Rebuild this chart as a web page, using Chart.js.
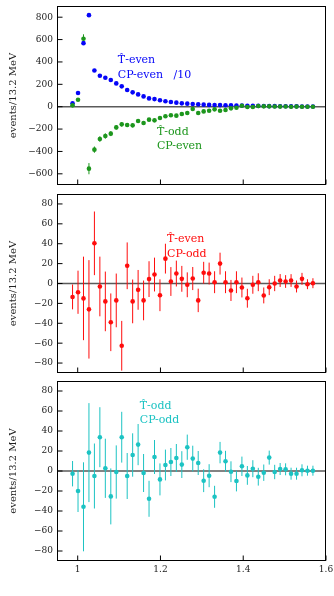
<!DOCTYPE html>
<html>
<head>
<meta charset="utf-8">
<script src="https://cdn.jsdelivr.net/npm/chart.js@4"></script>
<style>
  html, body { margin: 0; padding: 0; background: #fff; }
  body { width: 334px; height: 596px; position: relative; overflow: hidden; }
  .panel { position: absolute; left: 0; width: 334px; }
</style>
</head>
<body>
<div class="panel" style="top:0;height:190px"><canvas id="c1"></canvas></div>
<div class="panel" style="top:188px;height:190px"><canvas id="c2"></canvas></div>
<div class="panel" style="top:375px;height:221px"><canvas id="c3"></canvas></div>
<script>
// bin centres, m_KK in GeV (13.2 MeV bins)
const massGeV = [0.9876, 1.0008, 1.0140, 1.0272, 1.0404, 1.0536, 1.0668, 1.0800, 1.0932, 1.1064,
  1.1196, 1.1328, 1.1460, 1.1592, 1.1724, 1.1856, 1.1988, 1.2120, 1.2252, 1.2384,
  1.2516, 1.2648, 1.2780, 1.2912, 1.3044, 1.3176, 1.3308, 1.3440, 1.3572, 1.3704,
  1.3836, 1.3968, 1.4100, 1.4232, 1.4364, 1.4496, 1.4628, 1.4760, 1.4892, 1.5024,
  1.5156, 1.5288, 1.5420, 1.5552, 1.5684];

// T-even CP-even (scaled /10)
const tEvenCpEven = [30, 122, 568, 818, 324, 277, 259, 238, 208, 182,
  149, 128, 110, 92, 74, 68, 57, 48, 42, 36,
  30, 27, 24, 21, 18, 16, 15, 14, 13, 12,
  11, 10, 9, 8, 7, 6, 5, 5, 4, 4,
  3, 3, 2, 2, 2];

// T-odd CP-even
const tOddCpEven = [12, 62, 607, -554, -384, -289, -262, -241, -185, -158,
  -164, -167, -128, -146, -116, -122, -101, -86, -77, -80,
  -65, -57, -21, -57, -42, -36, -24, -36, -30, -15,
  -9, 9, -3, -3, 6, 3, 3, 2, 1, 2,
  0, 1, 0, 0, 0];
const tOddCpEvenErr = [8, 12, 40, 50, 28, 25, 24, 22, 20, 19,
  18, 17, 16, 16, 15, 15, 14, 13, 13, 12,
  12, 12, 11, 11, 10, 10, 10, 10, 9, 9,
  9, 8, 8, 8, 7, 7, 7, 6, 6, 6,
  6, 5, 5, 5, 5];

// T-even CP-odd
const tEvenCpOdd = [-13.5, -8.8, -15, -26, 40.4, -3, -18, -39, -17, -62.6,
  17.8, -18, -6.4, -17, 4.4, 9, -11.8, 25, 2, 10,
  4.7, -1.3, 5, -17, 10.8, 10, 1.3, 20, 1.3, -7,
  1.3, -4, -14.8, -1.3, 1.3, -12, -3.7, 0, 3, 2,
  3, -3, 4.7, -0.7, 0.3];
const tEvenCpOddErr = [12.5, 21.7, 42, 49.5, 32, 30, 30, 29, 27, 25,
  23.5, 22, 20, 20, 18, 17, 16, 15, 14.5, 13,
  13, 12.5, 11.6, 11.8, 11, 11, 11, 11, 11, 10.6,
  11, 10, 9.5, 9, 9, 8, 8, 7.7, 6.5, 6.4,
  6.4, 6, 6, 5, 5];

// T-odd CP-odd
const tOddCpOdd = [-2.7, -20, -35.8, 18.4, -5, 33.8, 2.7, -25.4, -1, 33.8,
  -5, 16, 26.4, -2, -27.8, 14, -8.4, 6, 9, 13,
  6.4, 23.8, 12.4, 8, -9.7, -4.7, -25.8, 18.4, 9.7, -0.7,
  -10, 4.7, -4.4, 2.3, -5.7, -1.7, 13.4, -1, 2, 1.7,
  -2.7, -2.7, 0.7, 0.3, 0.3];
const tOddCpOddErr = [12.7, 21, 44.5, 49.5, 32.5, 30, 29.6, 28, 26.6, 25.4,
  23, 21.7, 20.6, 19, 18, 17, 16, 15.4, 14, 14,
  13.4, 12.6, 12.9, 12, 11.4, 11.5, 11, 10.7, 10.5, 10.4,
  10.4, 9.7, 9.4, 8.5, 8.9, 8.2, 7, 7.2, 6, 6,
  6, 6, 6, 5, 5];

const xTicks = [1, 1.2, 1.4, 1.6];
const yTicksTop = [-600, -400, -200, 0, 200, 400, 600, 800];
const yTicksLow = [-80, -60, -40, -20, 0, 20, 40, 60, 80];

const BLUE = '#0505f8';
const GREEN = '#1d961d';
const RED = '#ff0c0c';
const CYAN = '#1cc3c3';
const SERIF = "'DejaVu Serif', serif";

const pts = (vals) => vals.map((v, i) => ({ x: massGeV[i], y: v }));

// zero line, error bars, frame, inward ticks, text notes
const framePlugin = {
  id: 'framePlugin',
  beforeDatasetsDraw(chart) {
    const { ctx, chartArea: a, scales: { x, y } } = chart;
    ctx.save();
    ctx.beginPath();
    ctx.rect(a.left, a.top, a.right - a.left, a.bottom - a.top);
    ctx.clip();
    const y0 = y.getPixelForValue(0);
    ctx.strokeStyle = '#5a5a5a';
    ctx.lineWidth = 1.6;
    ctx.beginPath();
    ctx.moveTo(a.left, y0);
    ctx.lineTo(a.right, y0);
    ctx.stroke();
    chart.data.datasets.forEach(ds => {
      if (!ds.errors) return;
      ctx.strokeStyle = ds.backgroundColor;
      ctx.lineWidth = 1;
      ds.data.forEach((p, i) => {
        const px = x.getPixelForValue(p.x);
        ctx.beginPath();
        ctx.moveTo(px, y.getPixelForValue(p.y + ds.errors[i]));
        ctx.lineTo(px, y.getPixelForValue(p.y - ds.errors[i]));
        ctx.stroke();
      });
    });
    ctx.restore();
  },
  afterDraw(chart, args, opts) {
    const { ctx, chartArea: a, scales: { x, y } } = chart;
    ctx.save();
    const L = Math.round(a.left) + 0.5, R = Math.round(a.right) - 0.5;
    const T = Math.round(a.top) + 0.5, B = Math.round(a.bottom) - 0.5;
    ctx.strokeStyle = '#000';
    ctx.lineWidth = 1;
    ctx.strokeRect(L, T, R - L, B - T);
    ctx.beginPath();
    y.ticks.forEach(t => {
      const py = y.getPixelForValue(t.value);
      ctx.moveTo(L, py); ctx.lineTo(L + 5, py);
    });
    x.ticks.forEach(t => {
      const px = x.getPixelForValue(t.value);
      ctx.moveTo(px, B); ctx.lineTo(px, B - 5);
    });
    ctx.stroke();

    ctx.textBaseline = 'alphabetic';
    ctx.textAlign = 'left';
    (opts.notes || []).forEach(n => {
      ctx.fillStyle = n.color;
      ctx.font = '11px ' + SERIF;
      ctx.fillText(n.text, x.getPixelForValue(n.x), y.getPixelForValue(n.y));
    });

    if (opts.xTitle) {
      const parts = [
        { t: 'm', f: 'italic 11px ' + SERIF, dy: 0 },
        { t: 'KK', f: 'italic 7.5px ' + SERIF, dy: 2 },
        { t: ' [GeV]', f: '10px ' + SERIF, dy: 0 }
      ];
      let w = 0;
      parts.forEach(p => { ctx.font = p.f; p.w = ctx.measureText(p.t).width; w += p.w; });
      let cx = 194 - w / 2;
      const base = 590;
      ctx.fillStyle = '#222';
      parts.forEach(p => {
        ctx.font = p.f;
        ctx.fillText(p.t, cx, base + p.dy);
        cx += p.w;
      });
    }
    ctx.restore();
  }
};

function makeChart(id, datasets, yMin, yMax, yTicks, showX, notes) {
  return new Chart(document.getElementById(id), {
    type: 'scatter',
    data: { datasets },
    options: {
      responsive: true,
      maintainAspectRatio: false,
      animation: false,
      events: [],
      layout: { padding: { top: 6, right: 8, left: 0, bottom: 0 } },
      plugins: {
        legend: { display: false },
        tooltip: { enabled: false },
        framePlugin: { notes, xTitle: showX },
      },
      scales: {
        x: {
          type: 'linear',
          min: 0.95,
          max: 1.6,
          afterBuildTicks: s => { s.ticks = xTicks.map(v => ({ value: v })); },
          grid: { display: false, drawTicks: false },
          border: { display: false },
          ticks: { display: showX, padding: 3, color: '#222', font: { family: SERIF, size: 9 }, autoSkip: false, maxRotation: 0, callback: v => String(v) },
          afterFit: s => {
            s.height = showX ? 35 : 5;
            s.paddingLeft = 0; s.paddingRight = 0;
          },
        },
        y: {
          min: yMin,
          max: yMax,
          afterBuildTicks: s => { s.ticks = yTicks.map(v => ({ value: v })); },
          grid: { display: false, drawTicks: false },
          border: { display: false },
          ticks: { padding: 4, color: '#222', font: { family: SERIF, size: 9 }, autoSkip: false, callback: v => v < 0 ? '\u2212' + Math.abs(v) : String(v) },
          title: { display: true, text: 'events/13.2 MeV', color: '#222', font: { family: SERIF, size: 10 }, padding: { top: 7, bottom: 0 } },
          afterFit: s => {
            s.width = 57;
            s.paddingTop = 0; s.paddingBottom = 0;
          },
        },
      },
    },
    plugins: [framePlugin],
  });
}

const dot = (color) => ({ backgroundColor: color, borderWidth: 0, pointRadius: 2.3 });

makeChart('c1', [
  { label: 'T-odd CP-even', data: pts(tOddCpEven), errors: tOddCpEvenErr, order: 0, ...dot(GREEN) },
  { label: 'T-even CP-even /10', data: pts(tEvenCpEven), order: 1, ...dot(BLUE) },
], -700, 900, yTicksTop, false, [
  { x: 1.097, y: 393, text: 'T\u0302-even', color: BLUE },
  { x: 1.097, y: 259, text: 'CP-even   /10', color: BLUE },
  { x: 1.1915, y: -250, text: 'T\u0302-odd', color: GREEN },
  { x: 1.1915, y: -375, text: 'CP-even', color: GREEN },
]);

makeChart('c2', [
  { label: 'T-even CP-odd', data: pts(tEvenCpOdd), errors: tEvenCpOddErr, ...dot(RED) },
], -90, 90, yTicksLow, false, [
  { x: 1.2157, y: 42, text: 'T\u0302-even', color: RED },
  { x: 1.2157, y: 27, text: 'CP-odd', color: RED },
]);

makeChart('c3', [
  { label: 'T-odd CP-odd', data: pts(tOddCpOdd), errors: tOddCpOddErr, ...dot(CYAN) },
], -90, 90, yTicksLow, true, [
  { x: 1.150, y: 62, text: 'T\u0302-odd', color: CYAN },
  { x: 1.150, y: 48, text: 'CP-odd', color: CYAN },
]);
</script>
</body>
</html>
